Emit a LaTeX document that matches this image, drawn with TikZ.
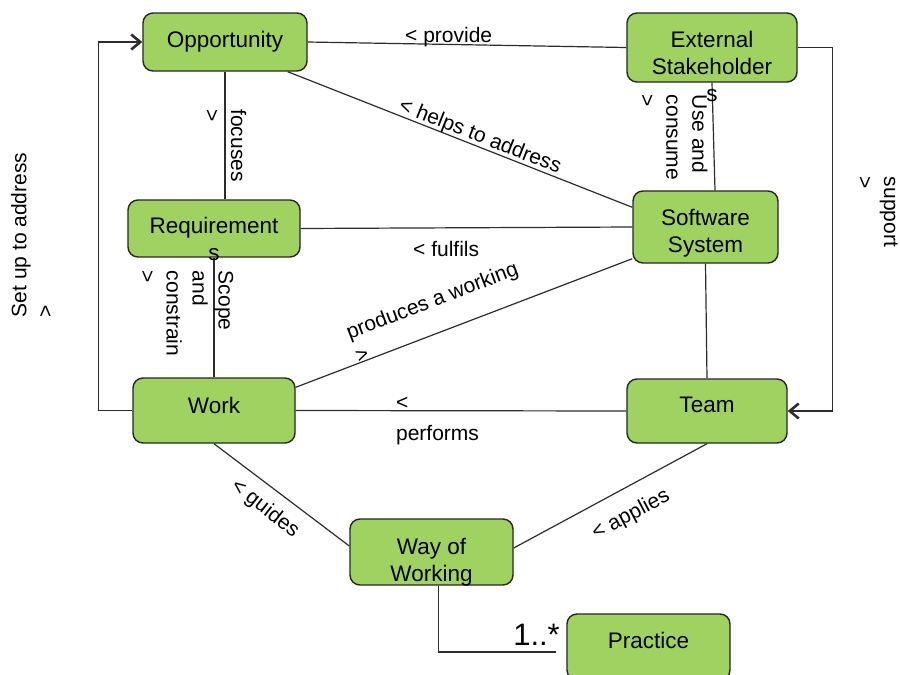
\documentclass[tikz,border=0pt]{standalone}
\usepackage{fontspec}
\setmainfont{Liberation Sans}
\usetikzlibrary{arrows.meta}
\definecolor{boxgreen}{RGB}{160,210,98}
\definecolor{edgegray}{RGB}{45,45,45}
\begin{document}
\begin{tikzpicture}[x=1pt,y=-1pt,
  box/.style={draw=black!85, line width=1.4pt, fill=boxgreen, rounded corners=10pt, inner sep=0pt},
  ntext/.style={font=\fontsize{22.5}{27}\selectfont, align=center, inner sep=0pt, text=black},
  lab/.style={font=\fontsize{21}{26}\selectfont, inner sep=0pt, text=black},
  conn/.style={draw=edgegray, line width=1.2pt},
  openarrow/.style={-{Straight Barb[length=9pt,width=15pt,line width=2.6pt]}}]
\useasboundingbox (0,0) rectangle (900,675);
\clip (0,0) rectangle (900,675);
\fill[white] (0,0) rectangle (900,675);
% boxes
\node[box, minimum width=164pt, minimum height=58pt] (opp) at (225,42) {};
\node[box, minimum width=170pt, minimum height=69pt] (ext) at (712,47.5) {};
\node[box, minimum width=172pt, minimum height=57pt] (req) at (214,228.5) {};
\node[box, minimum width=145pt, minimum height=72pt] (sw) at (705.5,227) {};
\node[box, minimum width=162pt, minimum height=65pt] (work) at (214,410.5) {};
\node[box, minimum width=160pt, minimum height=64pt] (team) at (707,411) {};
\node[box, minimum width=163pt, minimum height=66pt] (wow) at (431.5,552) {};
\node[box, minimum width=163pt, minimum height=66pt] (prac) at (648.5,647) {};
% connectors
\draw[conn] (opp.east) -- (ext.west);
\draw[conn] ([xshift=-20pt]opp.south east) -- ([yshift=-17pt]sw.north west);
\draw[conn] (opp.south) -- (opp.south |- req.north);
\draw[conn] (ext.south) -- ([xshift=9.5pt]sw.north);
\draw[conn, openarrow] (ext.east) -- ++(35,0) |- (team.east);
\draw[conn] (req.east) -- (sw.west);
\draw[conn] (req.south) -- (work.north);
\draw[conn] ([yshift=-10pt]work.north east) -- ([yshift=5pt]sw.south west);
\draw[conn] (sw.south) -- (team.north);
\draw[conn] (work.east) -- (team.west);
\draw[conn] (work.south) -- ([yshift=6pt]wow.west);
\draw[conn] (team.south) -- ([yshift=4pt]wow.east);
\draw[conn, openarrow] (work.west) -- ++(-34,0) |- (opp.west);
\draw[conn] ([xshift=7pt]wow.south) |- ([xshift=-10pt,yshift=-5pt]prac.west);
% box texts
\node[ntext, anchor=base] (oppt) at (225,47) {Opportunity};
\node[ntext] (extt) at (712,66) {External\\Stakeholder\\s};
\node[ntext] (reqt) at (214,239) {Requirement\\s};
\node[ntext] (swt) at (705.5,232.8) {Software\\System};
\node[ntext, anchor=base] (workt) at (214,413) {Work};
\node[ntext, anchor=base] (teamt) at (707,412) {Team};
\node[ntext] (wowt) at (431.5,562.3) {Way of\\Working};
\node[ntext, anchor=base] (pract) at (648.5,648) {Practice};
% connector labels
\node[lab, anchor=base west] (lprov) at (405,42) {< provide};
\node[lab, rotate=-21.6] (lhelp) at (480,137) {< helps to address};
\node[lab, rotate=-90, align=left] (lfoc) at (225.7,145.5) {focuses\\>};
\node[lab, rotate=-90, align=left] (luse) at (674,137.5) {Use and\\consume\\>};
\node[lab, anchor=base west] (lful) at (413,256.5) {< fulfils};
\node[lab, rotate=-90, align=left] (lscope) at (187,313.5) {Scope\\and\\constrain\\>};
\node[lab, rotate=21, align=left] (lprod) at (436.5,312) {produces a working\\>};
\node[lab, align=left] (lperf) at (437.5,421.5) {<\\[5pt]performs};
\node[lab, rotate=-38] (lguide) at (265,509) {< guides};
\node[lab, rotate=28] (lapp) at (631,515) {< applies};
\node[lab, rotate=-90, align=left] (lsup) at (878,212) {support\\>};
\node[lab, rotate=90, align=left] (lset) at (31.8,235) {Set up to address\\>};
\node[font=\fontsize{31}{36}\selectfont, inner sep=0pt, anchor=base east, text=black] (lmult) at (560,645) {1..*};
\end{tikzpicture}
\end{document}
